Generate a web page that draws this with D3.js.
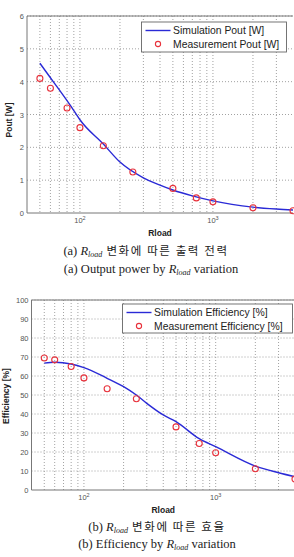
<!DOCTYPE html>
<html><head><meta charset="utf-8">
<script src="https://cdn.jsdelivr.net/npm/d3@7"></script>
<style>
body{margin:0;background:#fff;}
svg{display:block;}
</style></head>
<body>
<svg id="c" width="294" height="557"></svg>
<script>
// ---- data ----
const simRloadA = [50,60,70,80,90,100,150,200,300,400,500,700,1000,2000,3000,4000];
const simPout   = [4.56,4.12,3.75,3.42,3.12,2.84,2.1,1.55,1.07,0.85,0.70,0.52,0.37,0.18,0.12,0.09];
const measRloadA = [50,60,80,100,150,250,500,750,1000,2000,4000];
const measPout   = [4.1,3.8,3.2,2.6,2.05,1.25,0.75,0.46,0.34,0.16,0.07];

const simRloadB = [50,60,80,100,150,200,250,300,400,500,750,1000,2000,3000,4000];
const simEff    = [66.8,67.2,66.3,64.4,58.8,54.4,50,45.6,39.5,36,27,22.8,12.6,9.1,7];
const measRloadB = [50,60,80,100,150,250,500,750,1000,2000,4000];
const measEff    = [69.5,68.5,65,59,53.3,48,33.2,24.5,19.6,11.2,5.8];

const yTicksA = [0,1,2,3,4,5,6];
const yTicksB = [0,10,20,30,40,50,60,70,80,90,100];
const xDecades = [100,1000];
const xDomain = [40,4000];

const svg = d3.select("#c");

function minorGrid(){
  const v=[];
  [10,100,1000].forEach(d=>{for(let k=1;k<10;k++){const x=k*d; if(x>xDomain[0]&&x<xDomain[1]) v.push(x);}});
  return v;
}

function drawChart(o){
  const g = svg.append("g");
  const x = d3.scaleLog().domain(xDomain).range([o.left,o.right]);
  const y = d3.scaleLinear().domain(o.yDomain).range([o.bottom,o.top]);
  // grid
  g.append("g").selectAll("line.v").data(minorGrid()).join("line")
    .attr("x1",d=>x(d)).attr("x2",d=>x(d)).attr("y1",o.top).attr("y2",o.bottom)
    .attr("stroke","#8a8a8a").attr("stroke-width",0.8).attr("stroke-dasharray","1,2");
  g.append("g").selectAll("line.h").data(o.yTicks.slice(1)).join("line")
    .attr("x1",o.left).attr("x2",o.right).attr("y1",d=>y(d)).attr("y2",d=>y(d))
    .attr("stroke","#8a8a8a").attr("stroke-width",0.8).attr("stroke-dasharray","1,2");
  // axes frame (left, bottom, top)
  g.append("line").attr("x1",o.left).attr("x2",o.left).attr("y1",o.top).attr("y2",o.bottom).attr("stroke","#777").attr("stroke-width",1);
  g.append("line").attr("x1",o.left).attr("x2",o.right).attr("y1",o.bottom).attr("y2",o.bottom).attr("stroke","#777").attr("stroke-width",1);
  g.append("line").attr("x1",o.left).attr("x2",o.right).attr("y1",o.top).attr("y2",o.top).attr("stroke","#777").attr("stroke-width",1);
  // y tick labels
  g.append("g").selectAll("text").data(o.yTicks).join("text")
    .attr("x",o.left-3).attr("y",d=>y(d)+3).attr("text-anchor","end")
    .attr("font-family","Liberation Sans, Arial, sans-serif").attr("font-size",7.5).attr("fill","#555")
    .text(d=>d);
  // x tick labels
  const xl = g.append("g").selectAll("text").data(xDecades).join("text")
    .attr("x",d=>x(d)).attr("y",o.bottom+10).attr("text-anchor","middle")
    .attr("font-family","Liberation Sans, Arial, sans-serif").attr("font-size",7.5).attr("fill","#555");
  xl.append("tspan").text("10");
  xl.append("tspan").attr("dy",-3).attr("font-size",5.5).text(d=>Math.round(Math.log10(d)));
  // axis labels
  g.append("text").attr("x",(o.left+o.right)/2).attr("y",o.bottom+23).attr("text-anchor","middle")
    .attr("font-family","Liberation Sans, Arial, sans-serif").attr("font-weight","bold").attr("font-size",8.5).attr("fill","#222").text("Rload");
  g.append("text").attr("transform",`translate(${o.ylabX},${o.ylabY}) rotate(-90)`).attr("text-anchor","middle")
    .attr("font-family","Liberation Sans, Arial, sans-serif").attr("font-weight","bold").attr("font-size",8.5).attr("fill","#222").text(o.ylabel);
  // simulation line
  const line = d3.line().x(d=>x(d[0])).y(d=>y(d[1])).curve(d3.curveMonotoneX);
  g.append("path").datum(o.simX.map((v,i)=>[v,o.simY[i]])).attr("d",line)
    .attr("fill","none").attr("stroke","#2a2ad6").attr("stroke-width",1.4);
  // measurement points
  g.append("g").selectAll("circle").data(o.measX.map((v,i)=>[v,o.measY[i]])).join("circle")
    .attr("cx",d=>x(d[0])).attr("cy",d=>y(d[1])).attr("r",3)
    .attr("fill","none").attr("stroke","#e8323c").attr("stroke-width",1.1);
  // legend
  const L=o.leg;
  g.append("rect").attr("x",L.x).attr("y",L.y).attr("width",L.w).attr("height",L.h)
    .attr("fill","#fff").attr("stroke","#666").attr("stroke-width",0.9);
  g.append("line").attr("x1",L.x+4).attr("x2",L.x+29).attr("y1",L.y+8.5).attr("y2",L.y+8.5)
    .attr("stroke","#2a2ad6").attr("stroke-width",1.4);
  g.append("circle").attr("cx",L.x+16.5).attr("cy",L.y+22).attr("r",2.6)
    .attr("fill","none").attr("stroke","#e8323c").attr("stroke-width",1.1);
  g.append("text").attr("x",L.x+31.5).attr("y",L.y+12).attr("font-family","Liberation Sans, Arial, sans-serif")
    .attr("font-size",10.4).attr("fill","#222").text(o.legText[0]);
  g.append("text").attr("x",L.x+31.5).attr("y",L.y+25.8).attr("font-family","Liberation Sans, Arial, sans-serif")
    .attr("font-size",10.4).attr("fill","#222").text(o.legText[1]);
}

drawChart({left:27,right:293,top:16,bottom:213,yDomain:[0,6],yTicks:yTicksA,
  simX:simRloadA,simY:simPout,measX:measRloadA,measY:measPout,
  ylabel:"Pout [W]",ylabX:12,ylabY:120,
  leg:{x:141.5,y:22,w:145,h:30},legText:["Simulation Pout [W]","Measurement Pout [W]"]});

drawChart({left:31.5,right:295,top:300,bottom:490,yDomain:[0,100],yTicks:yTicksB,
  simX:simRloadB,simY:simEff,measX:measRloadB,measY:measEff,
  ylabel:"Efficiency [%]",ylabX:9,ylabY:396,
  leg:{x:122.5,y:304,w:170,h:29},legText:["Simulation Efficiency [%]","Measurement Efficiency [%]"]});

// captions
function caption(cx,y,parts){
  const t=svg.append("text").attr("x",cx).attr("y",y).attr("text-anchor","middle")
    .attr("font-family","Liberation Serif, Times New Roman, serif").attr("font-size",12.5).attr("fill","#222");
  parts.forEach(p=>{
    const s=t.append("tspan").text(p.t);
    if(p.i) s.attr("font-style","italic");
    if(p.sub) s.attr("font-size",8).attr("font-style","italic").attr("dy",2);
    if(p.up) s.attr("dy",-2);
    if(p.k) s.attr("font-family","Noto Sans CJK KR, sans-serif").attr("font-size",11.5).attr("letter-spacing",1.6);
  });
}
caption(146,255,[{t:"(a) "},{t:"R",i:1},{t:"load",sub:1},{t:" 변화에 따른 출력 전력",k:1,up:1}]);
caption(151,273,[{t:"(a) Output power by "},{t:"R",i:1},{t:"load",sub:1},{t:" variation",up:1}]);
caption(157,531,[{t:"(b) "},{t:"R",i:1},{t:"load",sub:1},{t:" 변화에 따른 효율",k:1,up:1}]);
caption(157,548,[{t:"(b) Efficiency by "},{t:"R",i:1},{t:"load",sub:1},{t:" variation",up:1}]);
</script>
</body></html>
